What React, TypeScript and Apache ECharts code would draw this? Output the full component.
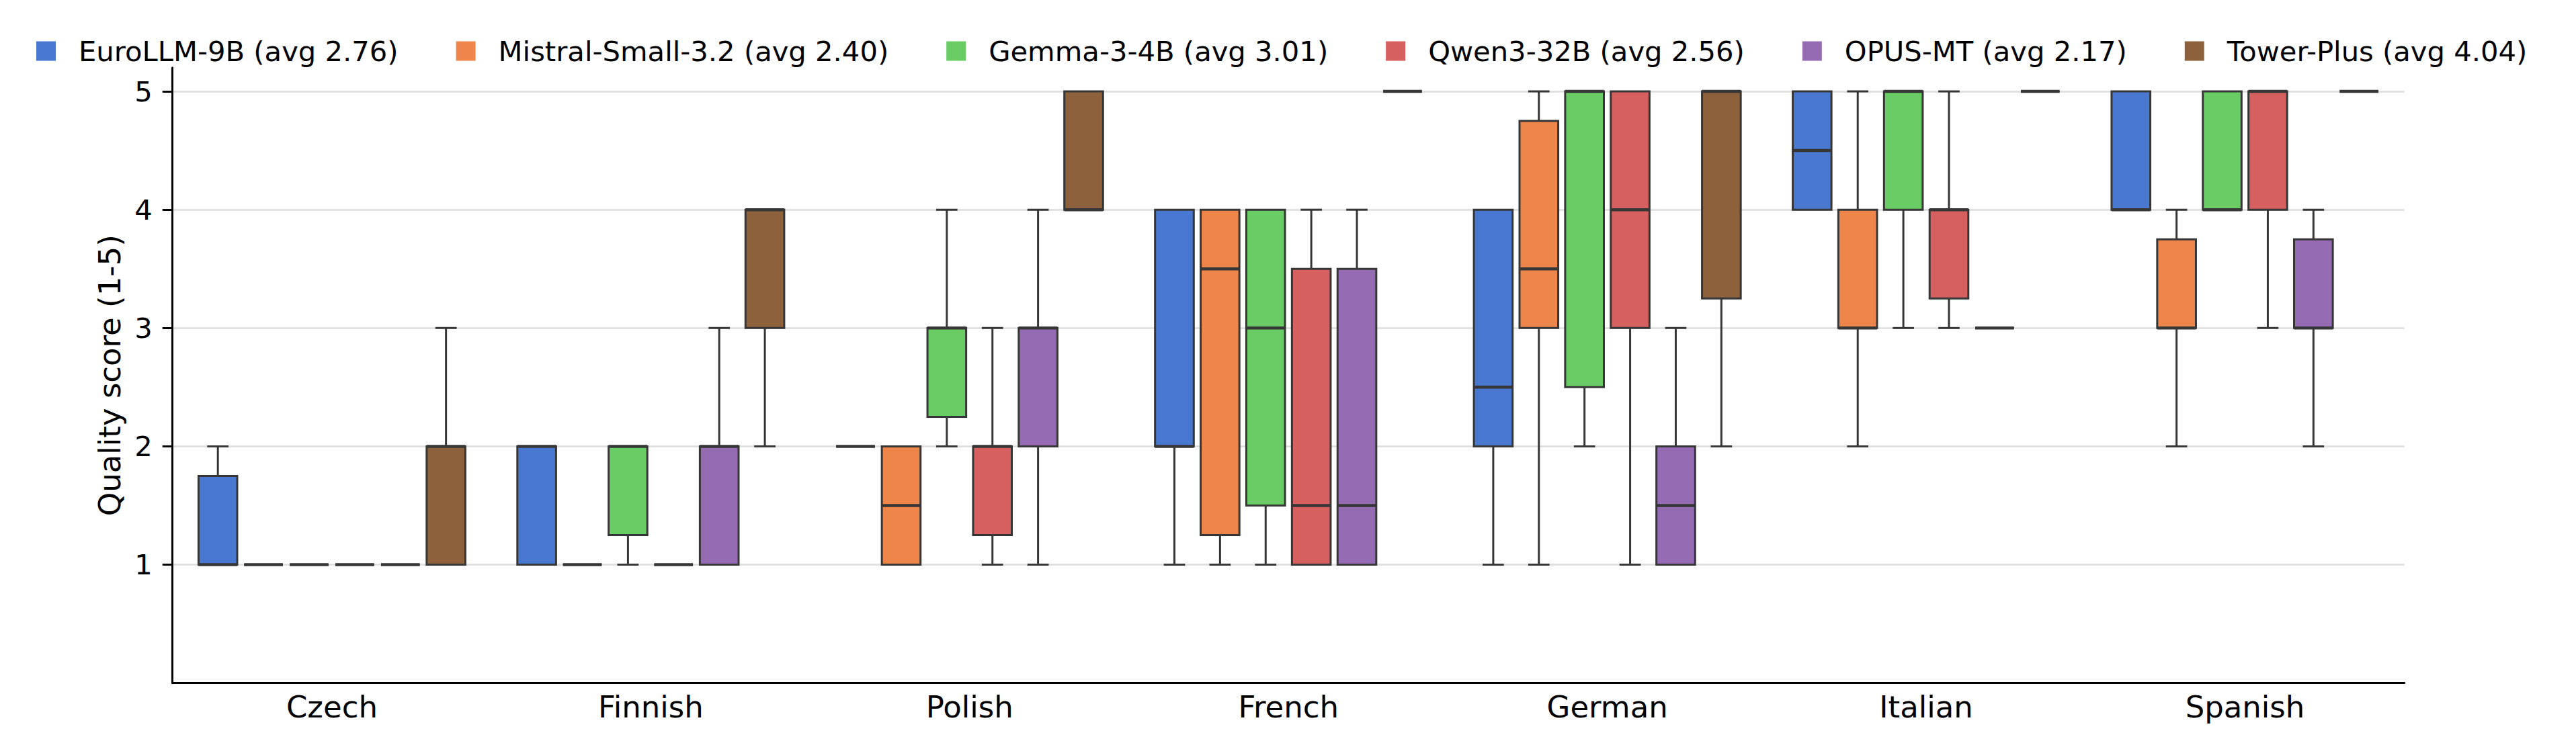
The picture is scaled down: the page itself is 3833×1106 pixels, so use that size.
import React, { useEffect, useRef } from "react";
import * as echarts from "echarts";

const LANGS = ["Czech", "Finnish", "Polish", "French", "German", "Italian", "Spanish"];
const MODELS = [
  "EuroLLM-9B (avg 2.76)",
  "Mistral-Small-3.2 (avg 2.40)",
  "Gemma-3-4B (avg 3.01)",
  "Qwen3-32B (avg 2.56)",
  "OPUS-MT (avg 2.17)",
  "Tower-Plus (avg 4.04)",
];
const COLORS = ["#4878d0", "#ee854a", "#6acc64", "#d65f5f", "#956cb4", "#8c613c"];
const Y_TICKS = [1, 2, 3, 4, 5];

// [min, q1, median, q3, max] per language
const EUROLLM = [[1, 1, 1, 1.75, 2], [1, 1, 2, 2, 2], [2, 2, 2, 2, 2], [1, 2, 2, 4, 4], [1, 2, 2.5, 4, 4], [4, 4, 4.5, 5, 5], [4, 4, 4, 5, 5]];
const MISTRAL = [[1, 1, 1, 1, 1], [1, 1, 1, 1, 1], [1, 1, 1.5, 2, 2], [1, 1.25, 3.5, 4, 4], [1, 3, 3.5, 4.75, 5], [2, 3, 3, 4, 5], [2, 3, 3, 3.75, 4]];
const GEMMA = [[1, 1, 1, 1, 1], [1, 1.25, 2, 2, 2], [2, 2.25, 3, 3, 4], [1, 1.5, 3, 4, 4], [2, 2.5, 5, 5, 5], [3, 4, 5, 5, 5], [4, 4, 4, 5, 5]];
const QWEN = [[1, 1, 1, 1, 1], [1, 1, 1, 1, 1], [1, 1.25, 2, 2, 3], [1, 1, 1.5, 3.5, 4], [1, 3, 4, 5, 5], [3, 3.25, 4, 4, 5], [3, 4, 5, 5, 5]];
const OPUS = [[1, 1, 1, 1, 1], [1, 1, 2, 2, 3], [1, 2, 3, 3, 4], [1, 1, 1.5, 3.5, 4], [1, 1, 1.5, 2, 3], [3, 3, 3, 3, 3], [2, 3, 3, 3.75, 4]];
const TOWER = [[1, 1, 2, 2, 3], [2, 3, 4, 4, 4], [4, 4, 4, 5, 5], [5, 5, 5, 5, 5], [2, 3.25, 5, 5, 5], [5, 5, 5, 5, 5], [5, 5, 5, 5, 5]];
const STATS = [EUROLLM, MISTRAL, GEMMA, QWEN, OPUS, TOWER];

const FONT = "DejaVu Sans";
const EDGE = "#363636";
const SLOT = 0.1431; // per-hue offset, in category band units
const BOXW = 0.1214; // box width, in category band units

function makeRender(m: number) {
  return (params: any, api: any) => {
    const cat = api.value(0);
    const band = api.size([1, 0])[0];
    const xc = api.coord([cat, 0])[0] + (m - 2.5) * SLOT * band;
    const bw = BOXW * band;
    const cw = bw * 0.55;
    const y = (k: number) => api.coord([cat, api.value(k)])[1];
    const yMin = y(1), yQ1 = y(2), yMed = y(3), yQ3 = y(4), yMax = y(5);
    const color = api.visual("color");
    const ls = { stroke: EDGE, lineWidth: 3 };
    const children: any[] = [];
    if (Math.abs(yMin - yQ1) > 0.5) {
      children.push({ type: "line", shape: { x1: xc, y1: yQ1, x2: xc, y2: yMin }, style: ls });
      children.push({ type: "line", shape: { x1: xc - cw / 2, y1: yMin, x2: xc + cw / 2, y2: yMin }, style: ls });
    }
    if (Math.abs(yMax - yQ3) > 0.5) {
      children.push({ type: "line", shape: { x1: xc, y1: yQ3, x2: xc, y2: yMax }, style: ls });
      children.push({ type: "line", shape: { x1: xc - cw / 2, y1: yMax, x2: xc + cw / 2, y2: yMax }, style: ls });
    }
    children.push({
      type: "rect",
      shape: { x: xc - bw / 2, y: yQ3, width: bw, height: yQ1 - yQ3 },
      style: { fill: color, stroke: EDGE, lineWidth: 3 },
    });
    children.push({
      type: "line",
      shape: { x1: xc - bw / 2, y1: yMed, x2: xc + bw / 2, y2: yMed },
      style: { stroke: EDGE, lineWidth: 4.5 },
    });
    return { type: "group", children };
  };
}

export default function App() {
  const ref = useRef<HTMLDivElement>(null);
  useEffect(() => {
    if (!ref.current) return;
    const chart = echarts.init(ref.current, undefined, { renderer: "svg" });
    const series = MODELS.map((name, m) => ({
      type: "custom",
      name,
      data: STATS[m].map((s, i) => [i, ...s]),
      encode: { x: 0, y: [1, 2, 3, 4, 5] },
      itemStyle: { color: COLORS[m] },
      renderItem: makeRender(m),
      z: 3,
    }));
    chart.setOption({
      animation: false,
      backgroundColor: "#fff",
      textStyle: { fontFamily: FONT },
      legend: {
        data: MODELS,
        left: 49,
        top: 50,
        itemWidth: 29,
        itemHeight: 29,
        itemGap: 86,
        icon: "rect",
        selectedMode: false,
        itemStyle: { borderWidth: 0 },
        textStyle: {
          fontFamily: FONT,
          fontSize: 41.7,
          color: "#000",
          padding: [0, 0, 0, 29],
        },
      },
      grid: { left: 256.7, right: 255.3, top: 100.8, bottom: 89.3, containLabel: false },
      xAxis: {
        type: "category",
        data: LANGS,
        axisLine: { lineStyle: { color: "#000", width: 3 } },
        axisTick: { show: false },
        axisLabel: { fontFamily: FONT, fontSize: 45, color: "#000", margin: 13, interval: 0 },
        splitLine: { show: false },
      },
      yAxis: {
        type: "value",
        min: 0,
        max: 5.2,
        interval: 1,
        name: "Quality score (1-5)",
        nameLocation: "middle",
        nameGap: 71,
        nameTextStyle: { fontFamily: FONT, fontSize: 45, color: "#000" },
        axisLine: { show: true, lineStyle: { color: "#000", width: 3 } },
        axisTick: { show: true, length: 15, lineStyle: { color: "#000", width: 3 }, customValues: Y_TICKS },
        axisLabel: { fontFamily: FONT, fontSize: 41.7, color: "#000", margin: 30, customValues: Y_TICKS },
        splitLine: { show: true, lineStyle: { color: "#dddddd", width: 2.5 } },
      },
      series,
    });
    return () => chart.dispose();
  }, []);
  return <div ref={ref} style={{ position: "absolute", left: 0, top: 0, width: 3833, height: 1106 }} />;
}
